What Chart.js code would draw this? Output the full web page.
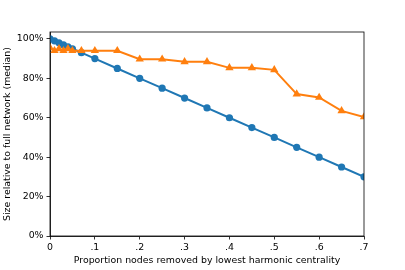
<!DOCTYPE html>
<html>
<head>
<meta charset="utf-8">
<script src="https://cdn.jsdelivr.net/npm/chart.js@4/dist/chart.umd.min.js"></script>
<style>
  html, body { margin: 0; padding: 0; background: #fff; }
  #wrap { width: 405px; height: 270px; }
</style>
</head>
<body>
<div id="wrap"><canvas id="myChart"></canvas></div>
<script>
const ctx = document.getElementById("myChart");

// proportion of nodes removed
const removed = [0, 0.01, 0.02, 0.03, 0.04, 0.05, 0.07, 0.1, 0.15, 0.2, 0.25, 0.3, 0.35,
  0.4, 0.45, 0.5, 0.55, 0.6, 0.65, 0.7];
// size relative to full network (median, %)
const blueSize = [100, 99, 98, 97, 96, 95, 93, 90, 85, 80, 75, 70, 65, 60, 55, 50, 45, 40, 35, 30];
const orangeSize = [95.5, 94, 95, 94, 95, 94, 94, 94, 94, 89.7, 89.7, 88.4, 88.4, 85.3, 85.3,
  84.3, 72, 70.3, 63.5, 60.4];
const yTicks = [0, 20, 40, 60, 80, 100];

function pts(vals) {
  return removed.map(function (x, i) {
    return { x: x, y: vals[i] };
  });
}

const frame = {
  id: "frame",
  afterDraw: function (chart) {
    const a = chart.chartArea;
    const c = chart.ctx;
    c.save();
    c.strokeStyle = "#000";
    c.lineWidth = 0.8;
    c.strokeRect(a.left, a.top, a.right - a.left, a.bottom - a.top);
    c.restore();
  },
};

const font = { family: "DejaVu Sans", size: 9.4 };

new Chart(ctx, {
  type: "line",
  data: {
    datasets: [
      {
        data: pts(blueSize),
        borderColor: "#1f77b4",
        backgroundColor: "#1f77b4",
        borderWidth: 2,
        pointRadius: 3.6,
        pointStyle: "circle",
        pointBorderWidth: 0,
        order: 1,
      },
      {
        data: pts(orangeSize),
        borderColor: "#ff7f0e",
        backgroundColor: "#ff7f0e",
        borderWidth: 2,
        pointRadius: 4.8,
        pointStyle: "triangle",
        pointBorderWidth: 0,
        order: 0,
      },
    ],
  },
  plugins: [frame],
  options: {
    responsive: true,
    maintainAspectRatio: false,
    animation: false,
    layout: { padding: { top: 32, right: 41, left: 0, bottom: 0 } },
    plugins: {
      legend: { display: false },
      tooltip: { enabled: false },
    },
    scales: {
      x: {
        type: "linear",
        min: 0,
        max: 0.7,
        grid: { drawOnChartArea: false, drawTicks: true, tickLength: 3.5, color: "#000", lineWidth: 0.8 },
        border: { display: true, color: "#000", width: 0.8 },
        ticks: {
          stepSize: 0.1,
          padding: 2,
          maxRotation: 0,
          color: "#000",
          font: font,
          callback: function (v) {
            return v === 0 ? "0" : v.toFixed(1).replace(/^0/, "");
          },
        },
        title: {
          display: true,
          text: "Proportion nodes removed by lowest harmonic centrality",
          color: "#000",
          font: font,
          padding: { top: 2, bottom: 4 },
        },
        afterFit: function (scale) {
          scale.height = 34;
        },
      },
      y: {
        min: 0,
        max: 103.5,
        grid: { drawOnChartArea: false, drawTicks: true, tickLength: 3.5, color: "#000", lineWidth: 0.8 },
        border: { display: true, color: "#000", width: 0.8 },
        afterBuildTicks: function (scale) {
          scale.ticks = yTicks.map(function (v) {
            return { value: v };
          });
        },
        ticks: {
          padding: 3,
          color: "#000",
          font: font,
          callback: function (v) {
            return v + "%";
          },
        },
        title: {
          display: true,
          text: "Size relative to full network (median)",
          color: "#000",
          font: font,
          padding: { top: 2, bottom: 2 },
        },
        afterFit: function (scale) {
          scale.width = 50;
        },
      },
    },
  },
});
</script>
</body>
</html>
